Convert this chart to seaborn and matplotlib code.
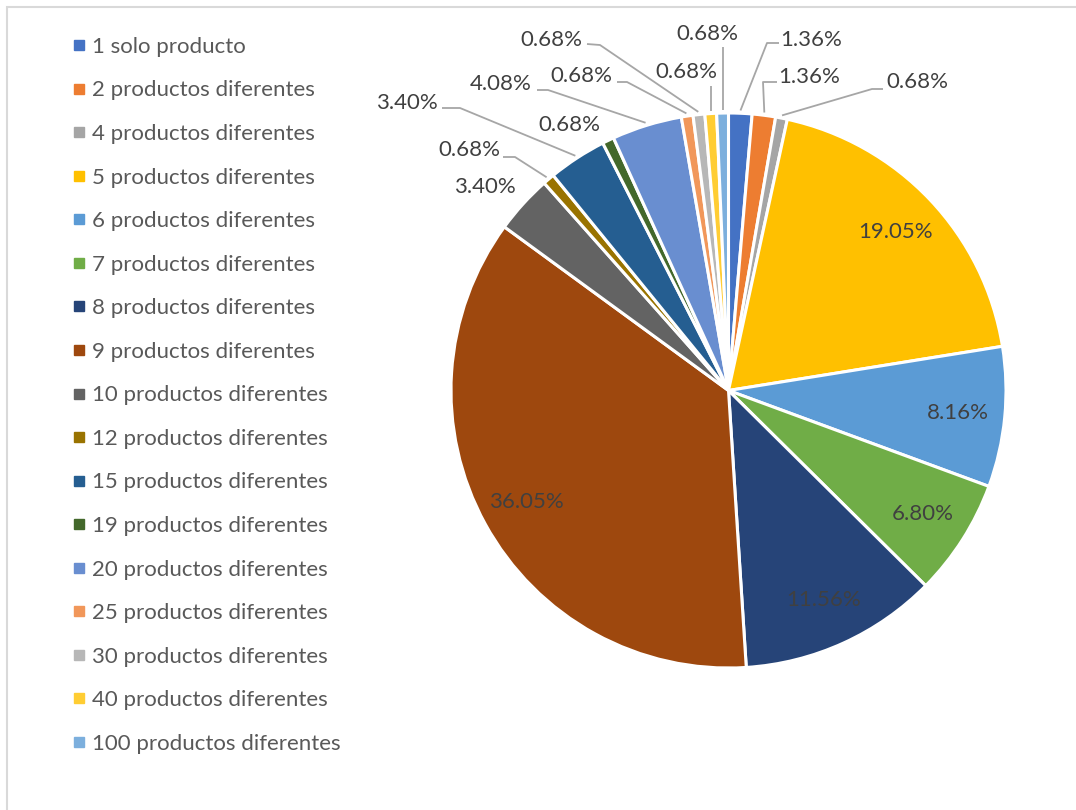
import matplotlib
matplotlib.use("Agg")
import matplotlib.pyplot as plt
from matplotlib.lines import Line2D
from matplotlib.patches import Rectangle
import numpy as np
import seaborn as sns

# Share of customers by number of different products bought (%)
categories = [
    "1 solo producto", "2 productos diferentes", "4 productos diferentes",
    "5 productos diferentes", "6 productos diferentes", "7 productos diferentes",
    "8 productos diferentes", "9 productos diferentes", "10 productos diferentes",
    "12 productos diferentes", "15 productos diferentes", "19 productos diferentes",
    "20 productos diferentes", "25 productos diferentes", "30 productos diferentes",
    "40 productos diferentes", "100 productos diferentes",
]
percentages = [1.36, 1.36, 0.68, 19.05, 8.16, 6.80, 11.56, 36.05, 3.40,
               0.68, 3.40, 0.68, 4.08, 0.68, 0.68, 0.68, 0.68]
palette = ["#4472C4", "#ED7D31", "#A5A5A5", "#FFC000", "#5B9BD5", "#70AD47",
           "#264478", "#9E480E", "#636363", "#997300", "#255E91", "#43682B",
           "#698ED0", "#F1975A", "#B7B7B7", "#FFCD33", "#7CAFDD"]

sns.set_theme(style="white")
plt.rcParams["font.family"] = ["Lato", "DejaVu Sans"]

W, H = 1076, 810
fig = plt.figure(figsize=(W / 100, H / 100), dpi=100)
ax = fig.add_axes([0, 0, 1, 1])


def Y(y):
    # screen-style y (from the top) to axis y
    return H - y


cx, cy, R = 728.5, 390.5, 277.5
colors = sns.color_palette(palette)
wedges, _ = ax.pie(percentages, colors=colors, startangle=90, counterclock=False,
                   center=(cx, Y(cy)), radius=R,
                   wedgeprops=dict(edgecolor="white", linewidth=2.2))
ax.set_xlim(0, W)
ax.set_ylim(0, H)
ax.set_aspect("equal")
ax.axis("off")

# chart frame
ax.add_patch(Rectangle((7, Y(1200)), 1200, 1193, fill=False,
                       edgecolor="#D9D9D9", linewidth=1.5))

label_color = "#404040"
fs = 16

# mid-angle of every slice (degrees, clockwise from 12 o'clock)
cum = np.cumsum([0] + percentages[:-1])
mids = [(c + p / 2) / 100 * 360 for c, p in zip(cum, percentages)]


def edge_point(i, k=1.0):
    a = np.deg2rad(mids[i])
    return cx + k * R * np.sin(a), cy - k * R * np.cos(a)


# labels drawn inside the large slices
for i in [3, 4, 5, 6, 7]:
    x, y = edge_point(i, 0.83)
    ax.text(x, Y(y), f"{percentages[i]:.2f}%", ha="center", va="center",
            fontsize=fs, color=label_color)

# labels outside the small slices: index, text centre, leader points
outside = [
    (0, (811, 40), [(779, 43), (767, 43)]),
    (1, (809, 77), [(777, 82), (763, 82)]),
    (2, (917, 82), [(883, 89), (872, 89)]),
    (8, (485, 187), None),
    (9, (469, 150), [(503, 157), (515, 157)]),
    (10, (407, 103), [(442, 108), (460, 108)]),
    (11, (569, 125), None),
    (12, (501, 84), [(537, 90), (548, 90)]),
    (13, (581, 76), [(617, 82), (627, 82)]),
    (14, (551, 40), [(587, 44), (600, 45)]),
    (15, (686, 72), [(711, 86)]),
    (16, (707, 34), [(723, 47)]),
]
for i, (tx, ty), pts in outside:
    ax.text(tx, Y(ty), f"{percentages[i]:.2f}%", ha="center", va="center",
            fontsize=fs, color=label_color)
    if pts:
        ex, ey = edge_point(i, 1.01)
        if len(pts) == 1:
            ex = pts[0][0]
        xs = [p[0] for p in pts] + [ex]
        ys = [Y(p[1]) for p in pts] + [Y(ey)]
        ax.plot(xs, ys, color="#A6A6A6", linewidth=1.3, solid_capstyle="butt")

# legend
handles = [Line2D([], [], linestyle="none", marker="s", markersize=6.5,
                  markerfacecolor=c, markeredgecolor=c) for c in colors]
leg = fig.legend(handles, categories, loc="upper left",
                 bbox_to_anchor=(63 / W, 1 - 28 / H), frameon=False,
                 fontsize=fs, labelcolor="#595959", handlelength=0.6,
                 handletextpad=0.32, labelspacing=1.06, borderaxespad=0)

fig.savefig("out.png", dpi=100, facecolor="white")
